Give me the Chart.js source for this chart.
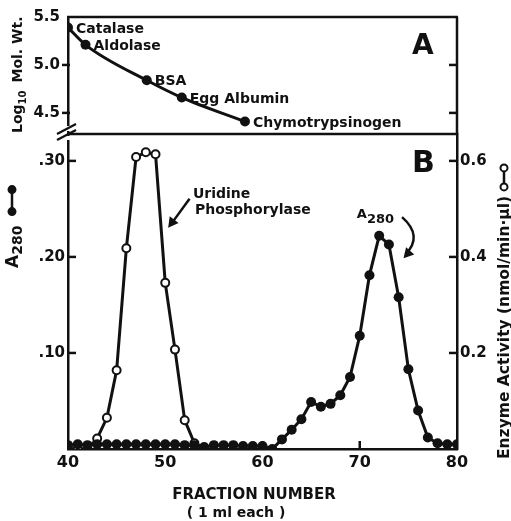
<!DOCTYPE html>
<html>
<head>
  <title>Uridine Phosphorylase - Gel Filtration</title>
  <script src="https://cdn.jsdelivr.net/npm/chart.js"></script>
  <style>
    body { margin: 0; background: #fff; }
    #wrap { position: relative; width: 511px; height: 521px; }
    #wrap canvas { position: absolute; left: 0; top: 0; }
  </style>
</head>
<body>
  <div id="wrap">
    <canvas id="chartB" width="511" height="521"></canvas>
    <canvas id="chartA" width="511" height="521"></canvas>
  </div>

  <script>
    // Panel A: molecular weight standards
    const stdNames = ['Catalase', 'Aldolase', 'BSA', 'Egg Albumin', 'Chymotrypsinogen'];
    const stdFractions = [40, 41.8, 48.1, 51.7, 58.2];
    const stdLogMw = [5.39, 5.21, 4.84, 4.66, 4.41];
    const logMwTicks = [4.5, 5.0, 5.5];

    // Panel B: A280 (filled circles)
    const a280Fractions = [40, 41, 42, 43, 44, 45, 46, 47, 48, 49, 50, 51, 52, 53, 54, 55, 56, 57, 58, 59, 60,
                           61, 62, 63, 64, 65, 66, 67, 68, 69, 70, 71, 72, 73, 74, 75, 76, 77, 78, 79, 80];
    const a280Values = [0.004, 0.005, 0.004, 0.005, 0.005, 0.005, 0.005, 0.005, 0.005, 0.005, 0.005, 0.005, 0.004, 0.004, 0.002, 0.004, 0.004, 0.004, 0.003, 0.003, 0.003,
                        0.000, 0.010, 0.020, 0.031, 0.049, 0.044, 0.047, 0.056, 0.075, 0.118, 0.181, 0.222, 0.213, 0.158, 0.083, 0.040, 0.012, 0.006, 0.005, 0.005];

    // Panel B: enzyme activity (open circles)
    const enzFractions = [40, 41, 42, 43, 44, 45, 46, 47, 48, 49, 50, 51, 52, 53, 54];
    const enzValues = [0, 0, 0, 0.022, 0.065, 0.164, 0.418, 0.608, 0.618, 0.614, 0.346, 0.207, 0.060, 0.012, 0.002];

    const a280Ticks = [0.1, 0.2, 0.3];
    const enzTicks = [0.2, 0.4, 0.6];
    const fractionTicks = [40, 50, 60, 70, 80];

    const ink = '#111';
    const FONT = '"DejaVu Sans"';
    Chart.defaults.font.family = FONT;
    Chart.defaults.font.weight = 'bold';
    Chart.defaults.color = ink;

    function pts(xs, ys) {
      return xs.map((x, i) => ({ x: x, y: ys[i] }));
    }

    function line(ctx, x1, y1, x2, y2) {
      ctx.beginPath();
      ctx.moveTo(x1, y1);
      ctx.lineTo(x2, y2);
      ctx.stroke();
    }

    function arrowHead(ctx, x, y, angle, size) {
      ctx.save();
      ctx.translate(x, y);
      ctx.rotate(angle);
      ctx.beginPath();
      ctx.moveTo(0, 0);
      ctx.lineTo(-size, -size * 0.55);
      ctx.lineTo(-size, size * 0.55);
      ctx.closePath();
      ctx.fill();
      ctx.restore();
    }

    // text drawn bottom-to-top; parts = [{text, font, dy}]
    function rotatedText(ctx, x, y, parts) {
      ctx.save();
      ctx.translate(x, y);
      ctx.rotate(-Math.PI / 2);
      ctx.textAlign = 'left';
      ctx.textBaseline = 'alphabetic';
      let cx = 0;
      parts.forEach(p => {
        if (p.gap) { cx += p.gap; return; }
        ctx.font = p.font;
        ctx.fillText(p.text, cx, p.dy || 0);
        cx += ctx.measureText(p.text).width;
      });
      ctx.restore();
      return cx;
    }

    // little line-with-two-circles symbol, vertical on screen
    function dumbbell(ctx, x, yBottom, yTop, filled) {
      ctx.save();
      ctx.lineWidth = 2.5;
      line(ctx, x, yBottom, x, yTop);
      [yBottom, yTop].forEach(y => {
        ctx.beginPath();
        ctx.arc(x, y, 3.5, 0, Math.PI * 2);
        ctx.fillStyle = filled ? ink : '#fff';
        ctx.fill();
        ctx.lineWidth = 2;
        ctx.stroke();
      });
      ctx.restore();
    }

    const axisBorder = { display: true, color: ink, width: 2.5 };
    const noGrid = { display: false, drawTicks: false };

    // ---------- Panel B ----------
    const panelB = {
      id: 'panelB',
      afterDraw(chart) {
        const { ctx, chartArea: a, scales: { x, y, y2 } } = chart;
        ctx.save();
        ctx.strokeStyle = ink;
        ctx.fillStyle = ink;
        ctx.lineWidth = 2.5;
        const tl = 8;
        a280Ticks.forEach(v => line(ctx, a.left, y.getPixelForValue(v), a.left + tl, y.getPixelForValue(v)));
        enzTicks.forEach(v => line(ctx, a.right, y2.getPixelForValue(v), a.right - tl, y2.getPixelForValue(v)));
        [50, 60, 70].forEach(v => line(ctx, x.getPixelForValue(v), a.bottom, x.getPixelForValue(v), a.bottom - tl));

        // panel letter
        ctx.font = 'bold 30px ' + FONT;
        ctx.textAlign = 'left';
        ctx.textBaseline = 'top';
        ctx.fillText('B', a.right - 45, a.top + 15);

        // Uridine Phosphorylase label + arrow
        ctx.font = 'bold 14px ' + FONT;
        ctx.textBaseline = 'alphabetic';
        ctx.fillText('Uridine', x.getPixelForValue(52.85), y.getPixelForValue(0.2618));
        ctx.fillText('Phosphorylase', x.getPixelForValue(53.05), y.getPixelForValue(0.2443));
        const t0x = x.getPixelForValue(52.5), t0y = y.getPixelForValue(0.2605);
        const h0x = x.getPixelForValue(50.3), h0y = y.getPixelForValue(0.2305);
        ctx.lineWidth = 2.5;
        line(ctx, t0x, t0y, h0x + 4, h0y - 5);
        arrowHead(ctx, h0x, h0y, Math.atan2(h0y - t0y, h0x - t0x), 10);

        // A280 label + curved arrow
        ctx.font = 'bold 13px ' + FONT;
        const ax = x.getPixelForValue(69.7), ay = y.getPixelForValue(0.2405);
        ctx.fillText('A', ax, ay);
        ctx.fillText('280', ax + ctx.measureText('A').width, ay + 5);
        const p0x = x.getPixelForValue(74.35), p0y = y.getPixelForValue(0.2414);
        const cx = x.getPixelForValue(76.55), cy = y.getPixelForValue(0.2217);
        const p2x = x.getPixelForValue(74.5), p2y = y.getPixelForValue(0.1985);
        ctx.beginPath();
        ctx.moveTo(p0x, p0y);
        ctx.quadraticCurveTo(cx, cy, p2x + 2, p2y - 4);
        ctx.stroke();
        arrowHead(ctx, p2x, p2y, Math.atan2(p2y - cy, p2x - cx), 10);

        // axis titles
        ctx.fillStyle = ink;
        const endA = rotatedText(ctx, 18, 268, [
          { text: 'A', font: 'bold 17px ' + FONT },
          { text: '280', font: 'bold 14px ' + FONT, dy: 4 }
        ]);
        dumbbell(ctx, 12, 268 - endA - 14, 268 - endA - 36, true);

        const endE = rotatedText(ctx, 509, 459, [
          { text: 'Enzyme Activity (nmol/min\u00b7\u00b5l)', font: 'bold 15.5px ' + FONT }
        ]);
        dumbbell(ctx, 504, 459 - endE - 9, 459 - endE - 28, false);

        ctx.textAlign = 'center';
        ctx.font = 'bold 15px ' + FONT;
        ctx.fillText('FRACTION NUMBER', 254, 499);
        ctx.font = 'bold 14px ' + FONT;
        ctx.fillText('( 1 ml each )', 236, 517);
        ctx.restore();
      }
    };

    new Chart(document.getElementById('chartB'), {
      type: 'line',
      data: {
        datasets: [
          {
            label: 'A280',
            data: pts(a280Fractions, a280Values),
            yAxisID: 'y',
            borderColor: ink,
            borderWidth: 3,
            pointRadius: 5,
            pointBackgroundColor: ink,
            pointBorderWidth: 0,
            tension: 0
          },
          {
            label: 'Enzyme Activity',
            data: pts(enzFractions, enzValues),
            yAxisID: 'y2',
            borderColor: ink,
            borderWidth: 3,
            pointRadius: 4,
            pointBackgroundColor: '#fff',
            pointBorderColor: ink,
            pointBorderWidth: 2,
            tension: 0
          }
        ]
      },
      options: {
        responsive: false,
        animation: false,
        layout: { padding: { top: 134, left: 0, right: 0, bottom: 0 } },
        plugins: { legend: { display: false }, tooltip: { enabled: false } },
        scales: {
          x: {
            type: 'linear', min: 40, max: 80,
            afterFit: s => { s.height = 72; },
            afterBuildTicks: s => { s.ticks = fractionTicks.map(v => ({ value: v })); },
            grid: noGrid, border: axisBorder,
            ticks: { padding: 4, font: { size: 16, weight: 'bold' } }
          },
          y: {
            position: 'left', min: 0, max: 0.328,
            afterFit: s => { s.width = 68; },
            afterBuildTicks: s => { s.ticks = a280Ticks.map(v => ({ value: v })); },
            grid: noGrid, border: axisBorder,
            ticks: {
              padding: 3, font: { size: 15, weight: 'bold' },
              callback: v => '.' + String(Math.round(v * 100)).padStart(2, '0')
            }
          },
          y2: {
            position: 'right', min: 0, max: 0.656,
            afterFit: s => { s.width = 54; },
            afterBuildTicks: s => { s.ticks = enzTicks.map(v => ({ value: v })); },
            grid: noGrid, border: axisBorder,
            ticks: { padding: 3, font: { size: 15, weight: 'bold' }, callback: v => v.toFixed(1) }
          }
        }
      },
      plugins: [panelB]
    });

    // ---------- Panel A ----------
    const panelA = {
      id: 'panelA',
      afterDraw(chart) {
        const { ctx, chartArea: a, scales: { x, y } } = chart;
        ctx.save();
        ctx.strokeStyle = ink;
        ctx.fillStyle = ink;
        ctx.lineWidth = 2.5;
        line(ctx, a.left - 1, a.top, a.right + 1, a.top);
        line(ctx, a.right, a.top, a.right, a.bottom);
        line(ctx, a.left, a.bottom, a.right, a.bottom);
        [4.5, 5.0].forEach(v => {
          const py = y.getPixelForValue(v);
          line(ctx, a.left - 6, py, a.left + 2, py);
          line(ctx, a.right, py, a.right - 8, py);
        });

        // axis break
        ctx.fillStyle = '#fff';
        ctx.fillRect(a.left - 3, a.bottom - 8, 7, 5);
        ctx.fillRect(a.left - 3, a.bottom + 2, 7, 4);
        ctx.fillStyle = ink;
        ctx.lineWidth = 2.2;
        line(ctx, a.left - 11, a.bottom, a.left + 8, a.bottom - 10);
        line(ctx, a.left - 11, a.bottom + 6, a.left + 8, a.bottom - 4);

        // panel letter
        ctx.font = 'bold 28px ' + FONT;
        ctx.textAlign = 'left';
        ctx.textBaseline = 'top';
        ctx.fillText('A', a.right - 45, a.top + 16);

        // standard names next to points
        ctx.font = 'bold 14px ' + FONT;
        ctx.textBaseline = 'alphabetic';
        stdNames.forEach((n, i) => {
          ctx.fillText(n, x.getPixelForValue(stdFractions[i]) + 8, y.getPixelForValue(stdLogMw[i]) + 5);
        });

        // axis title
        rotatedText(ctx, 22, 133, [
          { text: 'Log', font: 'bold 14px ' + FONT },
          { text: '10', font: 'bold 10px ' + FONT, dy: 4 },
          { gap: 8 },
          { text: 'Mol. Wt.', font: 'bold 14px ' + FONT }
        ]);
        ctx.restore();
      }
    };

    new Chart(document.getElementById('chartA'), {
      type: 'line',
      data: {
        datasets: [{
          label: 'Log10 Mol. Wt.',
          data: pts(stdFractions, stdLogMw),
          borderColor: ink,
          borderWidth: 3,
          pointRadius: 5,
          pointBackgroundColor: ink,
          pointBorderWidth: 0,
          tension: 0.4,
          cubicInterpolationMode: 'monotone'
        }]
      },
      options: {
        responsive: false,
        animation: false,
        layout: { padding: { top: 15, left: 0, right: 54, bottom: 387 } },
        plugins: { legend: { display: false }, tooltip: { enabled: false } },
        scales: {
          x: { type: 'linear', min: 40, max: 80, display: false },
          y: {
            min: 4.28, max: 5.5,
            afterFit: s => { s.width = 68; },
            afterBuildTicks: s => { s.ticks = logMwTicks.map(v => ({ value: v })); },
            grid: noGrid, border: axisBorder,
            ticks: { padding: 8, font: { size: 15, weight: 'bold' }, callback: v => v.toFixed(1) }
          }
        }
      },
      plugins: [panelA]
    });
  </script>
</body>
</html>
